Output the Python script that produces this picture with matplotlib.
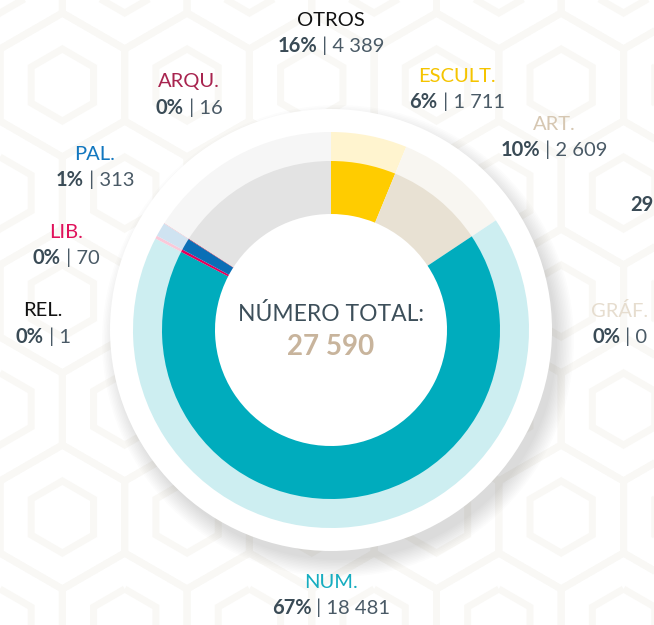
import matplotlib.pyplot as plt
from matplotlib.patches import Circle, RegularPolygon
import numpy as np

# data, clockwise from 12 o'clock
categories = ["ESCULT.", "ART.", "GRÁF.", "NUM.", "REL.", "LIB.", "PAL.", "ARQU.", "OTROS"]
counts = [1711, 2609, 0, 18481, 1, 70, 313, 16, 4389]
pct_labels = ["6%", "10%", "0%", "67%", "0%", "0%", "1%", "0%", "16%"]
count_labels = ["1 711", "2 609", "0", "18 481", "1", "70", "313", "16", "4 389"]
total_title = "NÚMERO TOTAL:"
total_label = "27 590"

inner_colors = ["#ffcc00", "#e8e1d3", "#e8e1d3", "#00acbd", "#111111",
                "#e4005a", "#0a6fb6", "#a8214c", "#e3e3e3"]
outer_colors = ["#fff4cf", "#f8f6f1", "#f8f6f1", "#cdeef1", "#dddddd",
                "#f9c9d9", "#cfe3f1", "#ecc8d3", "#f6f6f6"]
title_colors = ["#f5c400", "#d6c7b2", "#e6ddcf", "#16adc0", "#111111",
                "#e0105a", "#1277bf", "#a8244f", "#111111"]

# label anchor (x, y of title line) in image pixels
label_xy = {
    "ESCULT.": (457, 76), "ART.": (554, 124), "GRÁF.": (620, 311),
    "NUM.": (331, 582), "REL.": (43, 311), "LIB.": (66, 232),
    "PAL.": (95, 154), "ARQU.": (189, 82), "OTROS": (331, 20),
}

W, H = 654, 625
cx, cy = 331, H - 330
FONT = ["Lato", "DejaVu Sans"]
DARK = "#3a4b56"
SIZE = 14.5

fig = plt.figure(figsize=(W / 100, H / 100), dpi=100)
fig.patch.set_facecolor("white")
ax = fig.add_axes([0, 0, 1, 1])

# very faint hexagon texture in the background
R = 72
dx, dy = np.sqrt(3) * R, 1.5 * R
for row in range(-1, int(H / dy) + 2):
    for col in range(-1, int(W / dx) + 2):
        hx = col * dx + (dx / 2 if row % 2 else 0)
        hy = row * dy
        for rr in (R, R * 0.5):
            ax.add_patch(RegularPolygon((hx, hy), 6, radius=rr, fill=False,
                                        ec="#f9f8f5", lw=5, zorder=0))

# soft drop shadow under the white plate, mostly lower right
for r in np.linspace(236, 219, 12):
    ax.add_patch(Circle((cx + 7, cy - 11), r, color="black", alpha=0.010, lw=0, zorder=1))
ax.add_patch(Circle((cx, cy), 221, color="white", lw=0, zorder=1))

ax.pie(counts, radius=198, center=(cx, cy), startangle=90, counterclock=False,
       colors=outer_colors, wedgeprops=dict(width=30, linewidth=0, zorder=2))
ax.pie(counts, radius=169, center=(cx, cy), startangle=90, counterclock=False,
       colors=inner_colors, wedgeprops=dict(width=53, linewidth=0, zorder=2))

ax.set_xlim(0, W)
ax.set_ylim(0, H)
ax.set_aspect("equal")
ax.axis("off")

# centre text
ax.text(cx, H - 314, total_title, ha="center", va="center", fontsize=16.5,
        color="#3d4f5a", family=FONT, zorder=5)
ax.text(cx, H - 347, total_label, ha="center", va="center", fontsize=20,
        color="#c8b49c", family=FONT, fontweight="bold", zorder=5)

renderer = fig.canvas.get_renderer()


def value_line(x, y, pct, num, size=SIZE):
    t1 = ax.text(0, y, pct, ha="left", va="center", fontsize=size,
                 color=DARK, family=FONT, fontweight="bold", zorder=5)
    t2 = ax.text(0, y, " | " + num, ha="left", va="center", fontsize=size,
                 color="#4a5a66", family=FONT, zorder=5)
    w1 = t1.get_window_extent(renderer).width
    w2 = t2.get_window_extent(renderer).width
    left = x - (w1 + w2) / 2
    t1.set_x(left)
    t2.set_x(left + w1)


for cat, pct, num, col in zip(categories, pct_labels, count_labels, title_colors):
    x, y = label_xy[cat]
    ax.text(x, H - y, cat, ha="center", va="center", fontsize=SIZE,
            color=col, family=FONT, zorder=5)
    value_line(x, H - y - 26, pct, num)

# neighbouring label at the right edge
ax.text(630, H - 205, "29", ha="left", va="center", fontsize=SIZE,
        color=DARK, family=FONT, fontweight="bold", zorder=5)

fig.savefig("out.png", dpi=100, facecolor="white")
